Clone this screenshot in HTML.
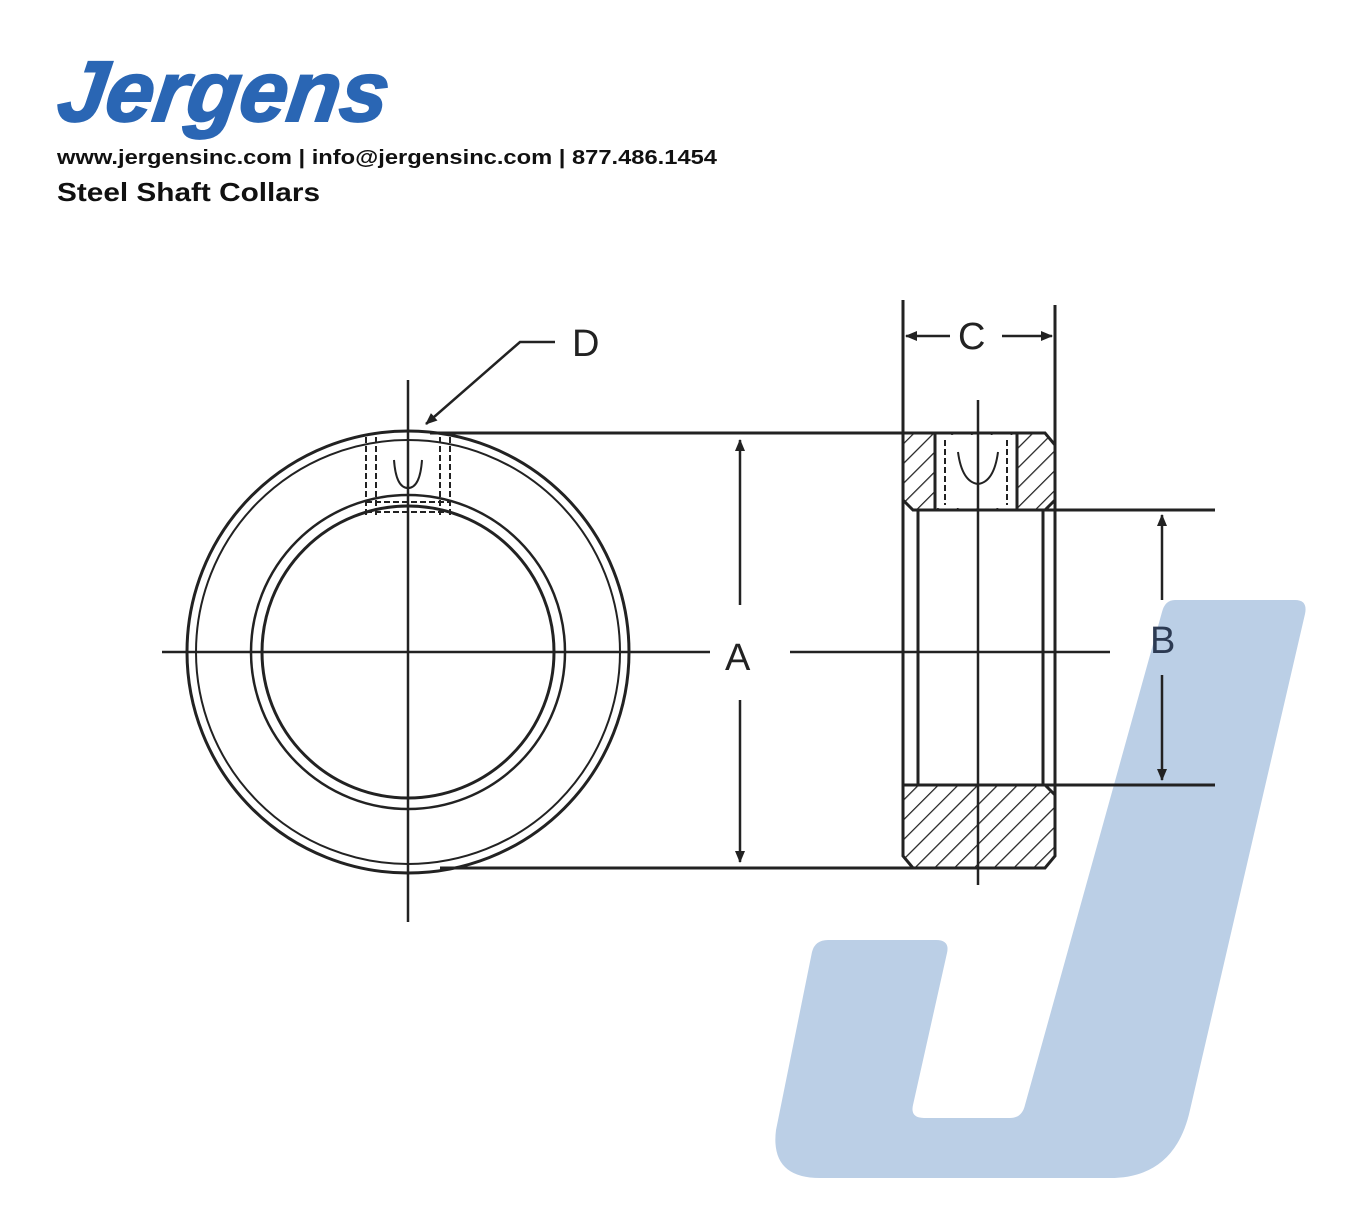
<!DOCTYPE html>
<html><head><style>
body{margin:0;background:#fff;width:1360px;height:1200px;overflow:hidden;font-family:"Liberation Sans",sans-serif}
</style></head><body>
<svg width="1360" height="1200" viewBox="0 0 1360 1200" xmlns="http://www.w3.org/2000/svg">
<defs>
<pattern id="h" patternUnits="userSpaceOnUse" width="14" height="14" patternTransform="rotate(45)">
<line x1="0" y1="0" x2="0" y2="14" stroke="#222" stroke-width="2.5"/>
</pattern>
<marker id="ar" markerWidth="12" markerHeight="10" refX="11" refY="5" orient="auto" markerUnits="userSpaceOnUse"><path d="M0,0 L12,5 L0,10 z" fill="#222"/></marker>
</defs>
<path d="M1175,600 L1295,600 Q1308,600 1305,614 L1190,1110 Q1175,1178 1110,1178 L820,1178 Q770,1178 776,1130 L812,952 Q815,940 828,940 L936,940 Q950,940 947,953 L913,1105 Q910,1118 924,1118 L1010,1118 Q1022,1118 1025,1105 L1162,612 Q1165,600 1175,600 Z" fill="#bbcfe6"/>
<text x="57" y="121" font-family="Liberation Sans" font-weight="bold" font-style="italic" font-size="86" fill="#2a66b4" stroke="#2a66b4" stroke-width="2" textLength="330" lengthAdjust="spacingAndGlyphs" transform="skewX(-8) translate(15,0)">Jergens</text>
<text x="57" y="164" font-size="20" font-weight="bold" fill="#111" textLength="660" lengthAdjust="spacingAndGlyphs">www.jergensinc.com | info@jergensinc.com | 877.486.1454</text>
<text x="57" y="201" font-size="26" font-weight="bold" fill="#111" textLength="263" lengthAdjust="spacingAndGlyphs">Steel Shaft Collars</text>
<g stroke="#222" fill="none" stroke-width="3">
<circle cx="408" cy="652" r="221"/>
<circle cx="408" cy="652" r="212" stroke-width="2"/>
<circle cx="408" cy="652" r="157" stroke-width="2.5"/>
<circle cx="408" cy="652" r="146"/>
<line x1="408" y1="380" x2="408" y2="922" stroke-width="2.5"/>
<line x1="162" y1="652" x2="710" y2="652" stroke-width="2.5"/>
<line x1="790" y1="652" x2="1110" y2="652" stroke-width="2.5"/>
<g stroke-width="2" stroke-dasharray="6,3">
<line x1="366" y1="437" x2="366" y2="518"/><line x1="376" y1="437" x2="376" y2="518"/>
<line x1="440" y1="437" x2="440" y2="518"/><line x1="450" y1="437" x2="450" y2="518"/>
<line x1="366" y1="502" x2="450" y2="502"/><line x1="366" y1="512" x2="450" y2="512"/>
</g>
<path d="M394,460 Q396,488 408,488 Q420,488 422,460" stroke-width="2"/>
<line x1="430" y1="433" x2="1045" y2="433"/>
<line x1="440" y1="868" x2="1045" y2="868"/>
<line x1="740" y1="605" x2="740" y2="440" marker-end="url(#ar)" stroke-width="2.5"/>
<line x1="740" y1="700" x2="740" y2="862" marker-end="url(#ar)" stroke-width="2.5"/>
<path d="M903,433 L1045,433 L1055,445 L1055,500 L1045,510 L913,510 L903,500 Z" fill="url(#h)"/>
<path d="M903,785 L1045,785 L1055,795 L1055,856 L1045,868 L913,868 L903,856 Z" fill="url(#h)"/>
<rect x="935" y="435" width="82" height="73" fill="#fff" stroke="none"/>
<line x1="935" y1="433" x2="935" y2="510"/><line x1="1017" y1="433" x2="1017" y2="510"/>
<g stroke-width="2" stroke-dasharray="6,3"><line x1="945" y1="440" x2="945" y2="505"/><line x1="1007" y1="440" x2="1007" y2="505"/></g>
<path d="M958,452 Q962,482 978,484 Q994,482 998,452" stroke-width="2"/>
<line x1="903" y1="300" x2="903" y2="856"/>
<line x1="1055" y1="305" x2="1055" y2="856"/>
<line x1="918" y1="510" x2="918" y2="785"/>
<line x1="1043" y1="510" x2="1043" y2="785"/>
<line x1="913" y1="510" x2="1215" y2="510"/>
<line x1="913" y1="785" x2="1215" y2="785"/>
<line x1="978" y1="400" x2="978" y2="885" stroke-width="2.5"/>
<line x1="950" y1="336" x2="906" y2="336" marker-end="url(#ar)" stroke-width="2.5"/>
<line x1="1002" y1="336" x2="1052" y2="336" marker-end="url(#ar)" stroke-width="2.5"/>
<line x1="1162" y1="600" x2="1162" y2="515" marker-end="url(#ar)" stroke-width="2.5"/>
<line x1="1162" y1="675" x2="1162" y2="780" marker-end="url(#ar)" stroke-width="2.5"/>
<polyline points="555,342 520,342 426,424" marker-end="url(#ar)" stroke-width="2.5"/>
</g>
<g font-size="38" fill="#222" font-family="Liberation Sans">
<text x="572" y="356">D</text>
<text x="958" y="349">C</text>
<text x="725" y="670">A</text>
<text x="1150" y="653" fill="#2c3a52">B</text>
</g>
</svg>
</body></html>
